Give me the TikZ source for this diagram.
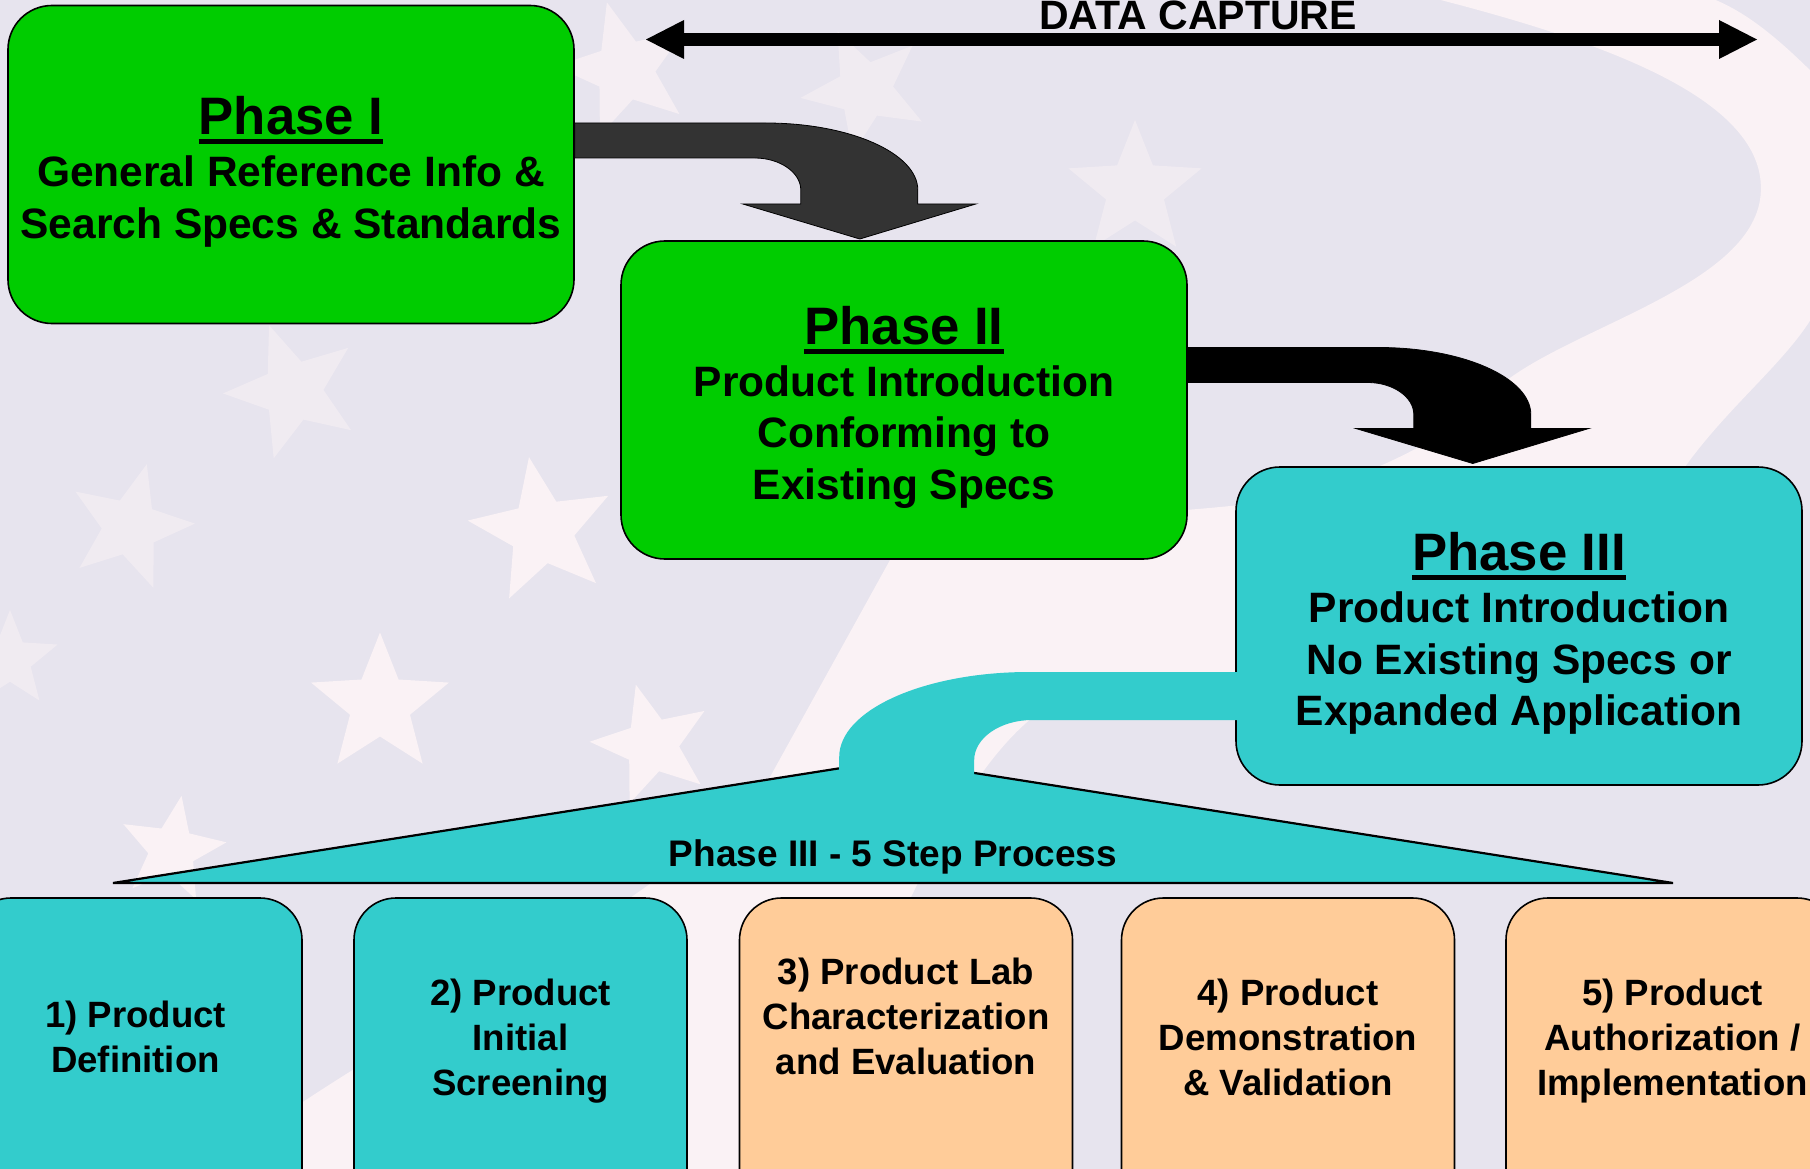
\documentclass[tikz,border=0pt]{standalone}
\usepackage{fontspec}
\setmainfont{Liberation Sans}
\usetikzlibrary{shapes.geometric,arrows.meta}

\definecolor{phgreen}{RGB}{0,204,0}
\definecolor{phcyan}{RGB}{51,204,204}
\definecolor{phpeach}{RGB}{255,204,153}
\definecolor{bgtex}{RGB}{231,228,238}
\definecolor{bgpale}{RGB}{250,242,245}
\definecolor{arrgray}{RGB}{51,51,51}

\newsavebox\phbox
\newcommand\phul[1]{\sbox\phbox{#1}\rlap{\rule[-9pt]{\wd\phbox}{4.7pt}}\usebox\phbox}
\newcommand\phhead[1]{{\fontsize{52.7}{51.7}\selectfont\phul{#1}}}

\tikzset{
  pbox/.style={draw, line width=1.6pt, rounded corners=44pt, minimum width=566pt, minimum height=318pt, inner sep=0pt},
  sbox/.style={draw, line width=1.6pt, rounded corners=42pt, minimum width=333pt, minimum height=318pt, inner sep=0pt},
  ptext/.style={align=center, inner sep=0pt, font=\fontsize{42.5}{51.7}\selectfont\bfseries},
  stext/.style={align=center, inner sep=0pt, font=\fontsize{36.6}{45}\selectfont\bfseries},
  flagstar/.style={star, star points=5, star point ratio=2.3, inner sep=0pt, draw=none, fill=bgpale},
  capture/.style={line width=13pt, {Triangle[length=38pt,width=39pt,line width=0pt]}-{Triangle[length=38pt,width=39pt,line width=0pt]}}
}

\def\flagstar(#1,#2,#3,#4,#5,#6){
  \node[flagstar, minimum size=#4pt, rotate=#5, fill opacity=#6] (#1) at (#2,#3) {};
}
\def\phasebox(#1,#2,#3,#4,#5){
  \node[pbox, fill=#4] (#1) at (#2,#3) {};
  \node[ptext] (#1-txt) at ([yshift=-7.5pt]#1.center) {#5};
}
\def\stepbox(#1,#2,#3,#4,#5){
  \node[sbox, fill=#3] (#1) at (#2,1057) {};
  \node[stext] (#1-txt) at (#2,#4) {#5};
}
\def\bentarrow(#1,#2,#3){
  \coordinate (#1-out) at ([yshift=#2pt]#1.east);
  \draw[line width=0.8pt, fill=#3, shift={(#1-out)}] (0,-17.5) -- (191,-17.5)
    .. controls (275,-17.5) and (343,12.7) .. (343,49.5) -- (343,63.5) -- (401,63.5)
    -- (285,98.5) -- (168,63.5) -- (226,63.5) -- (226,49.5)
    .. controls (226,31.9) and (205,17.5) .. (180,17.5) -- (0,17.5) -- cycle;
}

\begin{document}
\begin{tikzpicture}[x=1pt,y=-1pt]
\useasboundingbox (0,0) rectangle (1810,1169);
\clip (0,0) rectangle (1810,1169);
\fill[bgtex] (0,0) rectangle (1810,1169);
\fill[bgpale] (1421,-5) .. controls (1600,40) and (1775,100) .. (1760,200)
  .. controls (1745,290) and (1560,330) .. (1495,390)
  .. controls (1450,440) and (1350,490) .. (1240,505)
  .. controls (1050,525) and (930,510) .. (890,560) -- (770,777)
  .. controls (650,920) and (400,1020) .. (200,1175) -- (800,1175)
  .. controls (880,950) and (960,760) .. (1050,705)
  .. controls (1350,680) and (1620,560) .. (1690,460)
  .. controls (1750,380) and (1830,330) .. (1830,260) -- (1830,90)
  .. controls (1790,50) and (1750,10) .. (1702,-5) -- cycle;
\flagstar(stA,542,531,150,10,1)
\flagstar(stB,380,705,145,0,1)
\flagstar(stC,652,745,125,15,1)
\flagstar(stD,172,850,110,-10,1)
\flagstar(stE,293,391,140,20,0.5)
\flagstar(stF,130,527,130,-15,0.5)
\flagstar(stG,625,70,140,15,0.75)
\flagstar(stH,865,90,130,25,0.5)
\flagstar(stI,1135,190,140,0,0.5)
\flagstar(stJ,10,660,100,0,0.5)

\phasebox(ph1,291,164.5,phgreen,{\phhead{Phase I}\\General Reference Info \&\\Search Specs \& Standards})
\phasebox(ph2,904,400,phgreen,{\phhead{Phase II}\\Product Introduction\\Conforming to\\Existing Specs})
\phasebox(ph3,1519,626,phcyan,{\phhead{Phase III}\\Product Introduction\\No Existing Specs or\\Expanded Application})
\bentarrow(ph1,24,arrgray)
\bentarrow(ph2,35,black)

\coordinate (dcl) at (646,39.5);
\coordinate (dcr) at (1757,39.5);
\draw[capture] (dcl) -- (dcr);
\node[anchor=base, inner sep=0pt, font=\fontsize{41}{49}\selectfont\bfseries] (dcap) at (1198,30) {DATA CAPTURE};

\draw[line width=2.2pt, fill=phcyan] (113,883) -- (892,760) -- (1673,883) -- cycle;
\fill[phcyan, shift={(ph3.west)}] (-396,164) -- (-396,131)
  .. controls (-396,84) and (-311,46) .. (-206,46) -- (10,46) -- (10,94) -- (-203,94)
  .. controls (-235,94) and (-261,112) .. (-261,134) -- (-261,164) -- cycle;
\node[anchor=base, inner sep=0pt, font=\fontsize{37}{44}\selectfont\bfseries] (steps) at (893,866) {Phase III - 5 Step Process};

\stepbox(st1,135.5,phcyan,1037,{1) Product\\Definition})
\stepbox(st2,520.5,phcyan,1041,{2) Product\\Initial\\Screening})
\stepbox(st3,906,phpeach,1016,{3) Product Lab\\Characterization\\and Evaluation})
\stepbox(st4,1288,phpeach,1037.5,{4) Product\\Demonstration\\\& Validation})
\stepbox(st5,1672.5,phpeach,1041,{5) Product\\Authorization /\\Implementation})
\end{tikzpicture}
\end{document}
